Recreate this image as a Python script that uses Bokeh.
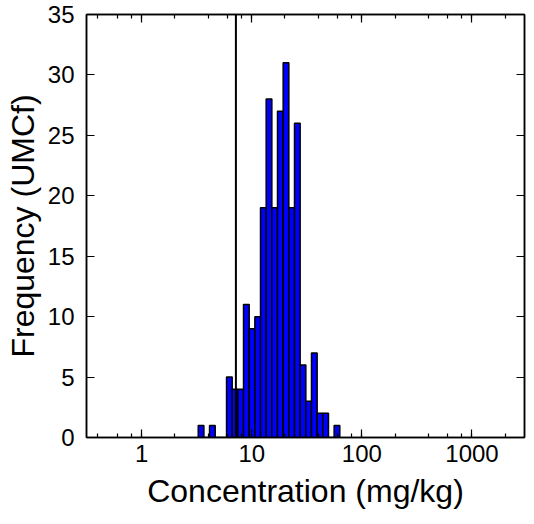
import numpy as np
from bokeh.plotting import figure
from bokeh.models import (Range1d, LogAxis, LinearAxis, Span, FixedTicker,
                          CustomJSTickFormatter, LogTicker, ColumnDataSource)
from bokeh.embed import file_html
from bokeh.resources import INLINE

# ---- data ----
bin_min = 3.26        # lowest bin edge (mg/kg)
bin_max = 63.0        # highest bin edge (mg/kg)
n_bins = 25
counts = [1, 0, 1, 0, 0, 5, 4, 4, 11, 9, 10, 19, 28, 19, 27, 31, 19, 26, 6, 3, 7, 2, 2, 0, 1]
threshold = 7.17      # vertical reference line
y_ticks = [0, 5, 10, 15, 20, 25, 30, 35]
x_ticks = [1, 10, 100, 1000]

edges = np.logspace(np.log10(bin_min), np.log10(bin_max), n_bins + 1)
src = ColumnDataSource(dict(left=edges[:-1], right=edges[1:], top=counts,
                            bottom=[0] * n_bins))

FONT = "Liberation Sans"

p = figure(width=526, height=516, x_axis_type="log",
           x_range=Range1d(0.315, 3000), y_range=Range1d(0, 35),
           output_backend="svg", toolbar_location=None,
           min_border_left=86, min_border_right=2, min_border_top=14,
           min_border_bottom=79)
p.background_fill_color = "white"
p.border_fill_color = "white"
p.grid.visible = False
p.outline_line_color = "black"
p.outline_line_width = 1.5

p.quad(left="left", right="right", top="top", bottom="bottom", source=src,
       fill_color="#0000ff", line_color="black", line_width=1.5)

p.add_layout(Span(location=threshold, dimension="height",
                  line_color="black", line_width=2))

fmt = CustomJSTickFormatter(code="return tick.toString();")
blank = CustomJSTickFormatter(code="return '';")

def style(ax):
    ax.axis_line_color = "black"
    ax.axis_line_width = 1.5
    ax.major_tick_in = 8
    ax.major_tick_out = 0
    ax.minor_tick_in = 4
    ax.minor_tick_out = 0
    ax.major_tick_line_color = "black"
    ax.minor_tick_line_color = "black"
    ax.major_tick_line_width = 1.2
    ax.minor_tick_line_width = 1.2
    ax.major_label_text_font = FONT
    ax.major_label_text_font_size = "24px"
    ax.major_label_text_color = "black"

xax = p.xaxis[0]
style(xax)
xax.ticker = LogTicker()
xax.formatter = fmt
xax.major_label_standoff = 7
xax.axis_label = "Concentration (mg/kg)"
xax.axis_label_text_font = FONT
xax.axis_label_text_font_size = "32px"
xax.axis_label_text_font_style = "normal"
xax.axis_label_text_color = "black"
xax.axis_label_standoff = 8

yax = p.yaxis[0]
style(yax)
yax.ticker = FixedTicker(ticks=y_ticks)
yax.minor_tick_line_color = None
yax.major_label_standoff = 12
yax.axis_label = "Frequency (UMCf)"
yax.axis_label_text_font = FONT
yax.axis_label_text_font_size = "32px"
yax.axis_label_text_font_style = "normal"
yax.axis_label_text_color = "black"
yax.axis_label_standoff = 4

top_ax = LogAxis(ticker=LogTicker(), formatter=blank)
style(top_ax)
top_ax.major_label_standoff = 0
p.add_layout(top_ax, "above")

right_ax = LinearAxis(ticker=FixedTicker(ticks=y_ticks), formatter=blank)
style(right_ax)
right_ax.major_label_standoff = 0
right_ax.minor_tick_line_color = None
p.add_layout(right_ax, "right")

open("out.html", "w").write(file_html(p, INLINE))
